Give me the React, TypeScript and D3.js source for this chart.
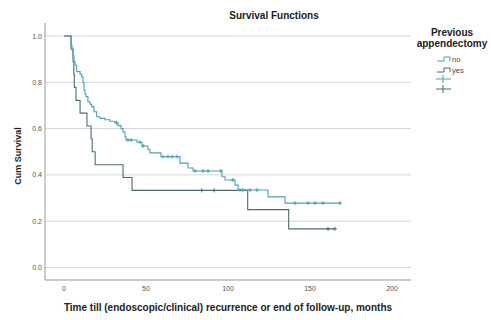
import * as d3 from 'd3';

// Kaplan-Meier steps: [time in months, cum survival after the event]
const noSteps: [number, number][] = [
  [0, 1], [4.3, 0.96], [4.9, 0.94], [5.5, 0.915], [6.1, 0.889], [6.7, 0.875], [7.7, 0.846],
  [9.8, 0.835], [10.8, 0.824], [11.6, 0.8], [12.2, 0.767], [12.8, 0.75], [13.4, 0.738],
  [14.6, 0.716], [15.9, 0.705], [16.9, 0.695], [18.3, 0.673], [19.9, 0.651], [22, 0.644],
  [25, 0.638], [28, 0.632], [31.1, 0.625], [32.9, 0.613], [34.8, 0.6], [36, 0.585],
  [37.2, 0.565], [37.8, 0.551], [44.5, 0.541], [47.6, 0.525], [51.2, 0.51], [52.4, 0.495],
  [59.1, 0.479], [70.7, 0.451], [75.6, 0.43], [78.7, 0.417], [96.3, 0.392], [98.2, 0.378],
  [104.3, 0.356], [106.1, 0.335], [124.4, 0.305], [134.8, 0.278],
];
const noCensored = [
  32, 39, 40.9, 46.3, 48.2, 60.4, 63.4, 65.9, 68.9, 79.9, 84.8, 87.8, 95.7, 103,
  107.3, 109.1, 113.4, 117.7, 140.9, 148.8, 153, 157.9, 168.3,
];
const noEnd = 168.3;

const yesSteps: [number, number][] = [
  [0, 1], [4.3, 0.944], [5.5, 0.889], [6, 0.833], [6.3, 0.778], [7.3, 0.722], [9.8, 0.667],
  [14, 0.611], [16.5, 0.556], [17.2, 0.5], [19, 0.444], [36, 0.389], [41.5, 0.333],
  [112, 0.25], [137, 0.167],
];
const yesCensored = [84, 91.5, 161, 165.2];
const yesEnd = 165.2;

const xTicks = [0, 50, 100, 150, 200];
const yTicks = [0, 0.2, 0.4, 0.6, 0.8, 1.0];
const groups = ['no', 'yes'];

const colNo = '#4ba2ad';
const colYes = '#506b6f';
const font = '"Liberation Sans", Arial, sans-serif';

function survAt(steps: [number, number][], t: number) {
  let s = 1;
  for (const [ti, si] of steps) {
    if (ti <= t) s = si;
  }
  return s;
}

export default function App() {
  const x = d3.scaleLinear().domain([0, 200]).range([64, 392]);
  const y = d3.scaleLinear().domain([0, 1]).range([267.5, 36]);
  const left = 45, right = 411, top = 23, bottom = 280;

  const line = d3.line<[number, number]>()
    .x(d => x(d[0]))
    .y(d => y(d[1]))
    .curve(d3.curveStepAfter);

  const series = [
    { name: 'yes', steps: yesSteps, cens: yesCensored, end: yesEnd, color: colYes },
    { name: 'no', steps: noSteps, cens: noCensored, end: noEnd, color: colNo },
  ];

  return (
    <svg width={491} height={320} style={{ position: 'absolute', left: 0, top: 0, background: '#fff' }}>
      <text x={274} y={19} textAnchor="middle" fontFamily={font} fontSize={10} fontWeight="bold" fill="#222">
        Survival Functions
      </text>

      {yTicks.map(t => (
        <g key={t}>
          <line x1={left} x2={right} y1={y(t)} y2={y(t)} stroke="#d6d6d6" strokeWidth={1} />
          <text x={42} y={y(t) + 2.5} textAnchor="end" fontFamily={font} fontSize={7} fill="#555">
            {t.toFixed(1)}
          </text>
        </g>
      ))}
      {xTicks.map(t => (
        <text key={t} x={x(t)} y={291} textAnchor="middle" fontFamily={font} fontSize={7} fill="#555">
          {t}
        </text>
      ))}
      <line x1={left} x2={left} y1={top} y2={bottom} stroke="#999" />
      <line x1={left} x2={right} y1={bottom} y2={bottom} stroke="#999" />

      {series.map(s => {
        const pts: [number, number][] = [...s.steps, [s.end, s.steps[s.steps.length - 1][1]]];
        return (
          <g key={s.name}>
            <path d={line(pts) ?? ''} fill="none" stroke={s.color} strokeWidth={1.1} />
            {s.cens.map((c, i) => {
              const cx = x(c), cy = y(survAt(s.steps, c));
              return (
                <path key={i} d={`M${cx - 2},${cy}H${cx + 2}M${cx},${cy - 2}V${cy + 2}`}
                  stroke={s.color} strokeWidth={1} />
              );
            })}
          </g>
        );
      })}

      <text transform="translate(21,156) rotate(-90)" textAnchor="middle" fontFamily={font} fontSize={9} fontWeight="bold" fill="#222">
        Cum Survival
      </text>
      <text x={228} y={311} textAnchor="middle" fontFamily={font} fontSize={10} fontWeight="bold" fill="#222">
        Time till (endoscopic/clinical) recurrence or end of follow-up, months
      </text>

      <text x={452} y={36} textAnchor="middle" fontFamily={font} fontSize={10} fontWeight="bold" fill="#222">Previous</text>
      <text x={452} y={47} textAnchor="middle" fontFamily={font} fontSize={10} fontWeight="bold" fill="#222">appendectomy</text>
      {groups.map((g, i) => {
        const cy = 60 + i * 11;
        const color = g === 'no' ? colNo : colYes;
        return (
          <g key={g}>
            <path d={`M437,${cy + 1}H444V${cy - 3}H450V${cy + 1}`} fill="none" stroke={color} strokeWidth={1} />
            <text x={452} y={cy + 2} fontFamily={font} fontSize={7.5} fill="#444">{g}</text>
          </g>
        );
      })}
      {groups.map((g, i) => {
        const cy = 79 + i * 10;
        const color = g === 'no' ? colNo : colYes;
        return (
          <path key={g} d={`M436,${cy}H451M443,${cy - 4}V${cy + 4}`} stroke={color} strokeWidth={1} />
        );
      })}
    </svg>
  );
}
